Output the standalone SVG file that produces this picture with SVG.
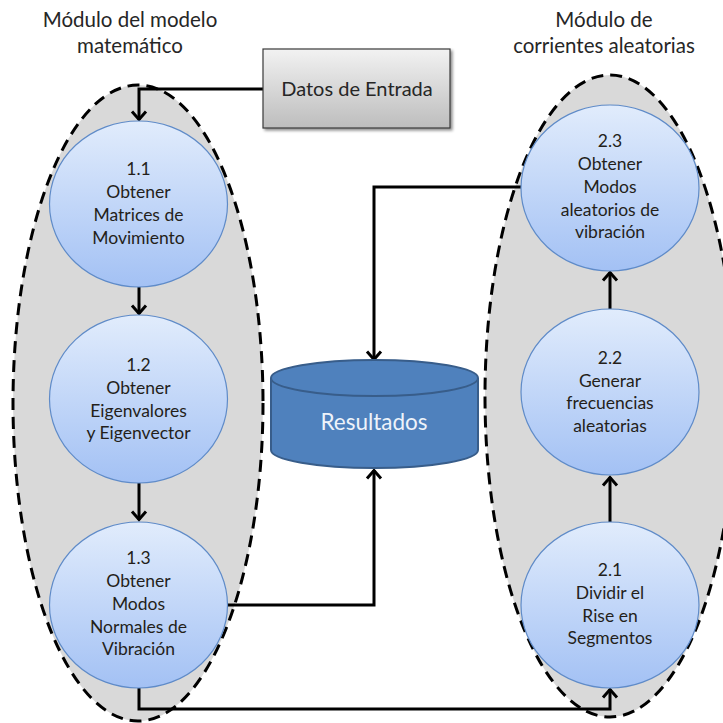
<svg xmlns="http://www.w3.org/2000/svg" width="723" height="723" viewBox="0 0 723 723">
  <defs>
    <linearGradient id="bubble" x1="0" y1="0" x2="0" y2="1">
      <stop offset="0" stop-color="#e1ecfc"/>
      <stop offset="1" stop-color="#a3c1f4"/>
    </linearGradient>
    <linearGradient id="boxFill" x1="0" y1="0" x2="0" y2="1">
      <stop offset="0" stop-color="#f2f2f2"/>
      <stop offset="1" stop-color="#bdbdbd"/>
    </linearGradient>
    <filter id="shadow" x="-10%" y="-10%" width="130%" height="140%">
      <feGaussianBlur in="SourceAlpha" stdDeviation="1.5"/>
      <feOffset dx="2" dy="2" result="b"/>
      <feComponentTransfer><feFuncA type="linear" slope="0.45"/></feComponentTransfer>
      <feMerge><feMergeNode/><feMergeNode in="SourceGraphic"/></feMerge>
    </filter>
    <marker id="arrow" markerUnits="userSpaceOnUse" viewBox="-12 -10 14 20" markerWidth="14" markerHeight="20" refX="0" refY="0" orient="auto">
      <path d="M-8.5,-7 L-0.5,0 L-8.5,7" fill="none" stroke="#000" stroke-width="3"/>
    </marker>
  </defs>
  <style>
    .module { fill: #d9d9d9; stroke: #000; stroke-width: 3; stroke-dasharray: 12 7; }
    .bubble { fill: url(#bubble); stroke: #5f8bc8; stroke-width: 1.2; }
    .title { font-family: Lato, "Liberation Sans", sans-serif; font-size: 20.5px; fill: #262626; text-anchor: middle; }
    .label { font-family: Lato, "Liberation Sans", sans-serif; font-size: 17.5px; fill: #241f1a; text-anchor: middle; }
    .conn { fill: none; stroke: #000; stroke-width: 3; marker-end: url(#arrow); }
  </style>

  <!-- module outlines -->
  <ellipse class="module" cx="138" cy="403" rx="125" ry="318"/>
  <ellipse class="module" cx="610" cy="396" rx="125" ry="321"/>

  <!-- module titles -->
  <text class="title" x="130" y="27">Módulo del modelo</text>
  <text class="title" x="130" y="53">matemático</text>
  <text class="title" x="604" y="27">Módulo de</text>
  <text class="title" x="604" y="53">corrientes aleatorias</text>

  <!-- connectors -->
  <g id="connectors">
    <path class="conn" d="M263,89 H139 V120"/>
    <path class="conn" d="M139,287 V314"/>
    <path class="conn" d="M139,483 V520"/>
    <path class="conn" d="M228,605 H374 V470"/>
    <path class="conn" d="M139,688 V709 H610 V689"/>
    <path class="conn" d="M610,522 V477"/>
    <path class="conn" d="M610,309 V272"/>
    <path class="conn" d="M521,187 H374 V360"/>
  </g>

  <!-- input box -->
  <g id="datos">
    <rect x="263" y="49" width="187" height="79" fill="url(#boxFill)" stroke="#3a3a3a" stroke-width="1.2" filter="url(#shadow)"/>
    <text class="title" x="357" y="96" fill="#1a1a1a" style="font-size:20px">Datos de Entrada</text>
  </g>

  <!-- process 1.1 -->
  <g id="p11">
    <ellipse class="bubble" cx="138.5" cy="204" rx="89" ry="83"/>
    <text class="label" x="138.5" y="175">1.1</text>
    <text class="label" x="138.5" y="198">Obtener</text>
    <text class="label" x="138.5" y="221">Matrices de</text>
    <text class="label" x="138.5" y="244">Movimiento</text>
  </g>

  <!-- process 1.2 -->
  <g id="p12">
    <ellipse class="bubble" cx="138.5" cy="399" rx="89" ry="84"/>
    <text class="label" x="138.5" y="371">1.2</text>
    <text class="label" x="138.5" y="394">Obtener</text>
    <text class="label" x="138.5" y="417">Eigenvalores</text>
    <text class="label" x="138.5" y="439">y Eigenvector</text>
  </g>

  <!-- process 1.3 -->
  <g id="p13">
    <ellipse class="bubble" cx="138.5" cy="605" rx="89" ry="83"/>
    <text class="label" x="138.5" y="564">1.3</text>
    <text class="label" x="138.5" y="587">Obtener</text>
    <text class="label" x="138.5" y="610">Modos</text>
    <text class="label" x="138.5" y="633">Normales de</text>
    <text class="label" x="138.5" y="655">Vibración</text>
  </g>

  <!-- process 2.3 -->
  <g id="p23">
    <ellipse class="bubble" cx="610" cy="188" rx="89" ry="83"/>
    <text class="label" x="610" y="147">2.3</text>
    <text class="label" x="610" y="170">Obtener</text>
    <text class="label" x="610" y="193">Modos</text>
    <text class="label" x="610" y="216">aleatorios de</text>
    <text class="label" x="610" y="238">vibración</text>
  </g>

  <!-- process 2.2 -->
  <g id="p22">
    <ellipse class="bubble" cx="610" cy="392" rx="89" ry="83"/>
    <text class="label" x="610" y="364">2.2</text>
    <text class="label" x="610" y="387">Generar</text>
    <text class="label" x="610" y="409">frecuencias</text>
    <text class="label" x="610" y="432">aleatorias</text>
  </g>

  <!-- process 2.1 -->
  <g id="p21">
    <ellipse class="bubble" cx="610" cy="605" rx="89" ry="83"/>
    <text class="label" x="610" y="576">2.1</text>
    <text class="label" x="610" y="599">Dividir el</text>
    <text class="label" x="610" y="622">Rise en</text>
    <text class="label" x="610" y="644">Segmentos</text>
  </g>

  <!-- results store -->
  <g id="resultados">
    <path d="M271,378 V450 A103.5,18 0 0 0 478,450 V378" fill="#4f81bd" stroke="#385d8a" stroke-width="2"/>
    <ellipse cx="374.5" cy="378" rx="103.5" ry="18" fill="#4f81bd" stroke="#385d8a" stroke-width="2"/>
    <text x="374" y="430" text-anchor="middle" font-family="Lato, 'Liberation Sans', sans-serif" font-size="22.5" fill="#eef3fa">Resultados</text>
  </g>
</svg>
